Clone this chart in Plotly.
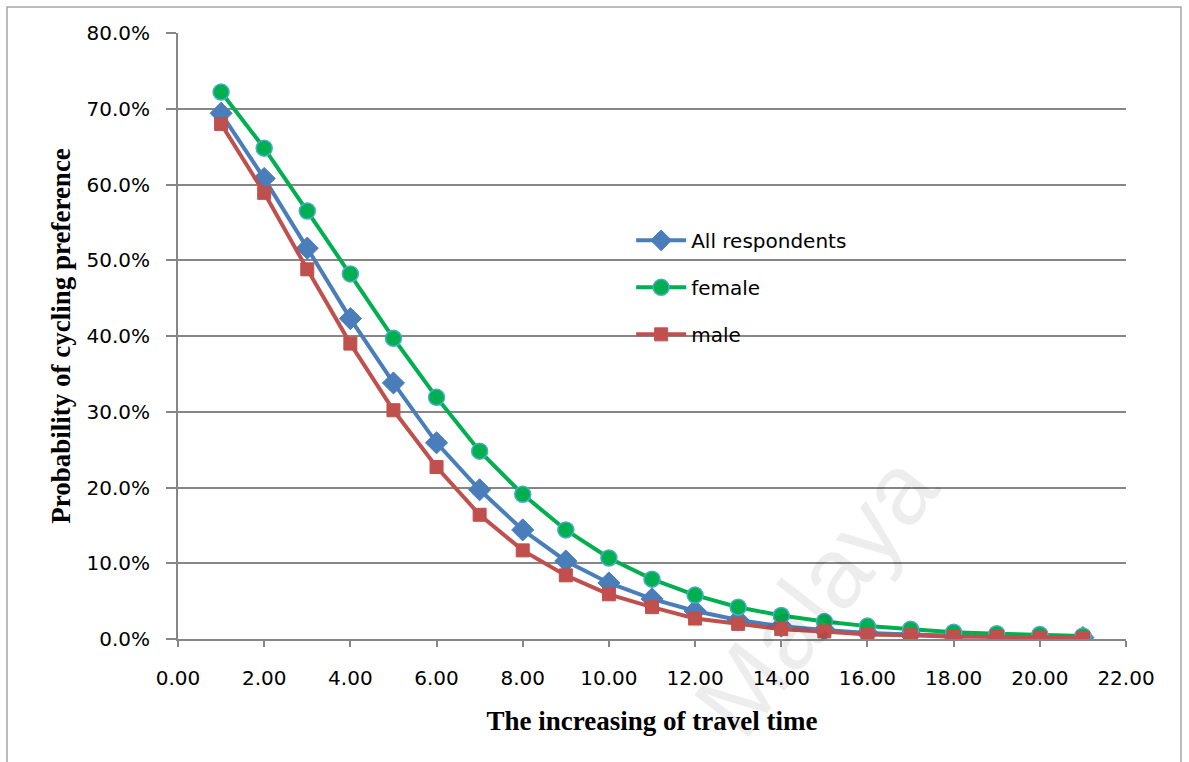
import plotly.graph_objects as go

# Travel-time increments and predicted probability of choosing cycling (%)
travel_time = list(range(1, 22))
all_respondents = [69.4, 60.8, 51.6, 42.3, 33.8, 25.9, 19.7, 14.4, 10.3, 7.4, 5.3,
                   3.7, 2.5, 1.7, 1.2, 0.8, 0.6, 0.4, 0.3, 0.25, 0.2]
female = [72.2, 64.8, 56.5, 48.2, 39.7, 31.9, 24.8, 19.1, 14.4, 10.7, 7.9,
          5.8, 4.2, 3.1, 2.3, 1.7, 1.3, 0.9, 0.7, 0.6, 0.4]
male = [68.0, 58.9, 48.8, 39.0, 30.2, 22.7, 16.4, 11.7, 8.4, 5.9, 4.2,
        2.7, 2.0, 1.3, 1.0, 0.6, 0.5, 0.3, 0.3, 0.2, 0.15]

x_ticks = [0, 2, 4, 6, 8, 10, 12, 14, 16, 18, 20, 22]
y_ticks = [0, 10, 20, 30, 40, 50, 60, 70, 80]

GRID = "#868686"
TICK_FONT = dict(family="DejaVu Sans", size=20, color="#000000")
TITLE_FONT = dict(family="Liberation Serif", size=27, color="#000000")

fig = go.Figure()

fig.add_trace(go.Scatter(
    x=travel_time, y=[v / 100 for v in all_respondents], name="All respondents",
    mode="lines+markers", legendgroup="a",
    line=dict(color="#4a7ebb", width=4),
    marker=dict(symbol="diamond", size=17, color="#4a7ebb",
                line=dict(color="#4a7ebb", width=1)),
))
fig.add_trace(go.Scatter(
    x=travel_time, y=[v / 100 for v in female], name="female",
    mode="lines+markers", legendgroup="f",
    line=dict(color="#00b050", width=4),
    marker=dict(symbol="circle", size=16, color="#00b050",
                line=dict(color="#4bacc6", width=1.5)),
))
fig.add_trace(go.Scatter(
    x=travel_time, y=[v / 100 for v in male], name="male",
    mode="lines+markers", legendgroup="m",
    line=dict(color="#c0504d", width=4),
    marker=dict(symbol="square", size=13, color="#c0504d",
                line=dict(color="#c0504d", width=1)),
))

fig.update_layout(
    width=1189, height=762,
    margin=dict(l=178, r=63, t=33, b=123),
    paper_bgcolor="#ffffff", plot_bgcolor="#ffffff",
    showlegend=True,
    legend=dict(
        x=0.478, y=0.690, xanchor="left", yanchor="top",
        bgcolor="rgba(0,0,0,0)", font=TICK_FONT,
        itemwidth=50, tracegroupgap=18,
    ),
    xaxis=dict(
        range=[0, 22], tickvals=x_ticks,
        ticktext=[f"{v:.2f}" for v in x_ticks],
        showgrid=False, zeroline=False,
        showline=True, linecolor=GRID, linewidth=2,
        ticks="outside", ticklen=6, tickcolor=GRID, tickwidth=2,
        ticklabelstandoff=14, tickfont=TICK_FONT,
        title=dict(text="<b>The increasing of travel time</b>",
                   font=TITLE_FONT, standoff=22),
    ),
    yaxis=dict(
        range=[0, 0.8], tickvals=[v / 100 for v in y_ticks],
        ticktext=[f"{v:.1f}%" for v in y_ticks],
        showgrid=True, gridcolor=GRID, gridwidth=1.5, zeroline=False,
        showline=True, linecolor=GRID, linewidth=2,
        ticks="outside", ticklen=10, tickcolor=GRID, tickwidth=2,
        ticklabelstandoff=12, tickfont=TICK_FONT,
        title=dict(text="<b>Probability of cycling preference</b>",
                   font=TITLE_FONT, standoff=8),
    ),
    shapes=[
        dict(type="rect", xref="paper", yref="paper", layer="below",
             x0=-171 / 948, x1=(1181 - 178) / 948,
             y0=-130 / 606, y1=1 + 26 / 606,
             line=dict(color="#a6a6a6", width=1.5)),
    ],
    annotations=[
        dict(text="Malaya", xref="paper", yref="paper",
             x=(815 - 178) / 948, y=(639 - 595) / 606,
             xanchor="center", yanchor="middle",
             showarrow=False, textangle=-52,
             font=dict(family="Liberation Sans", size=100,
                       color="rgba(0,0,0,0.07)")),
    ],
)

fig.write_html("out.html")
